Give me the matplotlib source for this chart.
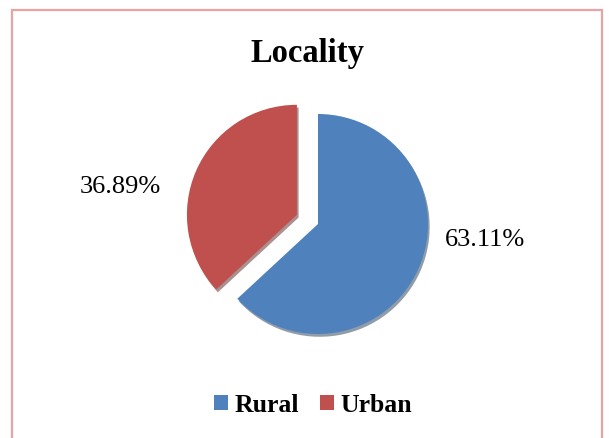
"""Locality share pie chart (Rural vs Urban)."""

import matplotlib

matplotlib.use("Agg")
import matplotlib.pyplot as plt
from matplotlib.patches import Rectangle

categories = ["Rural", "Urban"]
shares = [63.11, 36.89]
colors = ["#4F81BD", "#C0504D"]
explode = [0.0, 0.23]

W, H = 609, 439

plt.rcParams["font.family"] = ["Liberation Serif", "DejaVu Serif"]

fig = plt.figure(figsize=(W / 100, H / 100), dpi=100, facecolor="white")

# pink frame around the chart area (bottom edge falls outside the image)
fig.patches.append(
    Rectangle(
        (12 / W, -0.05), 590 / W, 1.05 - 11 / H,
        transform=fig.transFigure, fill=False,
        edgecolor="#E8A3A3", linewidth=1.6,
    )
)

fig.text(307 / W, 1 - 62 / H, "Locality", ha="center", va="baseline",
         fontsize=23.5, fontweight="bold")

# axes: 300x300 px centred on the pie centre, 100 px per data unit
cx, cy = 318, H - 225
ax = fig.add_axes([(cx - 150) / W, (cy - 150) / H, 300 / W, 300 / H])
wedges, _, autotexts = ax.pie(
    shares,
    colors=colors,
    explode=explode,
    radius=1.1,
    startangle=90,
    counterclock=False,
    autopct="%.2f%%",
    shadow={"ox": 0.012, "oy": -0.02, "shade": 0.55},
    wedgeprops={"linewidth": 0},
)
ax.set_xlim(-1.5, 1.5)
ax.set_ylim(-1.5, 1.5)
ax.set_aspect("equal")
ax.axis("off")

label_pos = [(1.67, -0.15), (-1.98, 0.38)]
for text, pos in zip(autotexts, label_pos):
    text.set_position(pos)
    text.set_fontsize(19)
    text.set_color("black")
    text.set_ha("center")
    text.set_va("center")

leg = fig.legend(
    wedges, categories, loc="center", bbox_to_anchor=(313 / W, 1 - 406 / H),
    ncol=2, frameon=False, handlelength=0.55, handleheight=0.55,
    handletextpad=0.25, columnspacing=0.8,
    prop={"family": "Liberation Serif", "weight": "bold", "size": 18.5},
)

fig.savefig("out.png", dpi=100, facecolor="white")
